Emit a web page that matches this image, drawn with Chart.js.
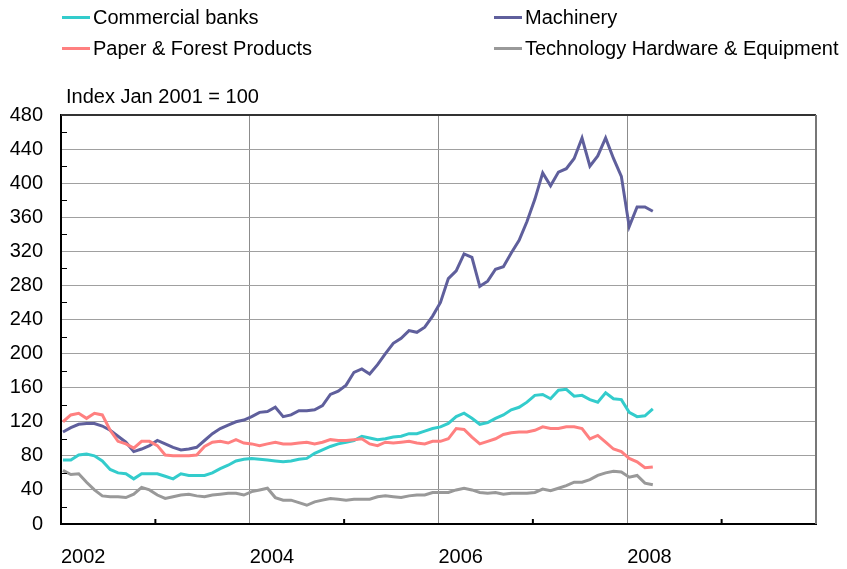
<!DOCTYPE html>
<html>
<head>
<meta charset="utf-8">
<script src="https://cdn.jsdelivr.net/npm/chart.js@4.4.1/dist/chart.umd.min.js"></script>
<style>
  html, body { margin: 0; padding: 0; background: #fff; }
  #wrap { position: relative; width: 847px; height: 569px; font-family: "Liberation Sans", Arial, sans-serif; color: #000; }
  canvas { position: absolute; left: 0; top: 0; }
  .leg { position: absolute; font-size: 20px; line-height: 22px; white-space: nowrap; display: flex; align-items: center; }
  .leg .sw { display: inline-block; width: 28px; height: 3px; margin-right: 3px; }
  #ytitle { position: absolute; left: 66px; top: 85px; font-size: 20px; line-height: 22px; white-space: nowrap; }
</style>
</head>
<body>
<div id="wrap">
  <canvas id="c" width="847" height="569"></canvas>
  <div id="legend"></div>
  <div id="ytitle">Index Jan 2001 = 100</div>
</div>
<script>
// ---- Data (monthly, Jan 2002 .. Apr 2008) ----
const startYear = 2002;
const seriesNames = ["Commercial banks", "Machinery", "Paper & Forest Products", "Technology Hardware & Equipment"];
const seriesColors = ["#33CCCC", "#5F5F9C", "#FF8080", "#999999"];

const commercialBanks = [
  75,75,81,82,80,74,64,60,59,53,59,59,59,56,53,59,57,57,57,60,65,69,74,76,77,
  76,75,74,73,74,76,77,83,87,91,94,96,98,103,101,99,100,102,103,106,106,109,112,114,
  118,126,130,124,117,119,124,128,134,137,143,151,152,147,157,158,150,151,146,143,154,147,146,131,126,127,135
];
const machinery = [
  108,113,117,118,118,115,110,103,96,85,88,92,98,94,90,87,88,90,98,106,112,116,120,122,126,
  131,132,137,126,128,133,
  133,134,139,152,156,163,178,182,176,187,200,212,218,227,225,231,244,260,288,297,317,313,279,285,299,
  302,318,333,355,381,412,397,413,417,429,453,420,432,453,429,408,349,372,372,367
];
const paperForest = [
  120,128,130,124,130,128,110,97,94,89,97,97,92,81,80,80,80,81,91,96,97,95,99,95,94,
  92,94,96,94,94,95,96,94,96,99,98,98,99,100,94,92,96,95,96,97,95,94,97,97,
  100,112,111,102,94,97,100,105,107,108,108,110,114,112,112,114,114,112,100,104,96,88,85,77,73,66,67
];
const techHardware = [
  63,58,59,49,40,33,32,32,31,35,43,40,34,30,32,34,35,33,32,34,35,36,36,34,38,
  40,42,31,28,28,25,22,26,28,30,29,28,29,29,29,32,33,32,31,33,34,34,37,37,
  37,40,42,40,37,36,37,35,36,36,36,37,41,39,42,45,49,49,52,57,60,62,61,55,57,48,46
];
const xTickLabels = ["2002", "2004", "2006", "2008"];
const yMin = 0, yMax = 480, yStep = 40;
const xMin = 2002, xMax = 2010;

const seriesValues = [commercialBanks, machinery, paperForest, techHardware];

function toPoints(arr) {
  return arr.map((v, i) => ({ x: startYear + (i + 0.25) / 12, y: v }));
}

// draw order: gray, red, teal, purple (purple on top)
const order = [3, 2, 0, 1];
const datasets = order.map(k => ({
  label: seriesNames[k],
  data: toPoints(seriesValues[k]),
  borderColor: seriesColors[k],
  backgroundColor: seriesColors[k],
  borderWidth: 3,
  pointRadius: 0,
  tension: 0,
  fill: false
}));

// HTML legend
const legendPos = [
  { k: 0, left: 62, top: 6 },
  { k: 1, left: 494, top: 6 },
  { k: 2, left: 62, top: 37 },
  { k: 3, left: 494, top: 37 }
];
const legEl = document.getElementById('legend');
legendPos.forEach(p => {
  const d = document.createElement('div');
  d.className = 'leg';
  d.style.left = p.left + 'px';
  d.style.top = p.top + 'px';
  const sw = document.createElement('span');
  sw.className = 'sw';
  sw.style.background = seriesColors[p.k];
  const t = document.createElement('span');
  t.textContent = seriesNames[p.k];
  d.appendChild(sw); d.appendChild(t);
  legEl.appendChild(d);
});

const framePlugin = {
  id: 'frame',
  afterDraw(chart) {
    const { ctx, chartArea: a, scales } = chart;
    ctx.save();
    // top and right frame
    ctx.strokeStyle = '#333';
    ctx.lineWidth = 2;
    ctx.beginPath(); ctx.moveTo(a.left, a.top); ctx.lineTo(a.right, a.top); ctx.stroke();
    ctx.strokeStyle = '#777';
    ctx.beginPath(); ctx.moveTo(a.right, a.top); ctx.lineTo(a.right, a.bottom); ctx.stroke();
    // minor y ticks (inside)
    ctx.strokeStyle = '#000';
    ctx.lineWidth = 1;
    for (let v = yMin + yStep / 2; v < yMax; v += yStep) {
      const y = Math.round(scales.y.getPixelForValue(v)) + 0.5;
      ctx.beginPath(); ctx.moveTo(a.left, y); ctx.lineTo(a.left + 6, y); ctx.stroke();
    }
    // x ticks at odd years (inside)
    ctx.lineWidth = 2;
    for (let yr = xMin + 1; yr < xMax; yr += 2) {
      const x = scales.x.getPixelForValue(yr);
      ctx.beginPath(); ctx.moveTo(x, a.bottom); ctx.lineTo(x, a.bottom - 5); ctx.stroke();
    }
    ctx.restore();
  }
};

new Chart(document.getElementById('c'), {
  type: 'line',
  data: { datasets },
  options: {
    responsive: false,
    animation: false,
    parsing: true,
    layout: { padding: { top: 115, right: 31, left: 0, bottom: 0 } },
    plugins: { legend: { display: false }, tooltip: { enabled: false }, title: { display: false } },
    scales: {
      x: {
        type: 'linear',
        min: xMin, max: xMax,
        afterFit(s) { s.height = 45; },
        afterBuildTicks(s) {
          const t = [];
          for (let yr = xMin; yr <= xMax; yr++) t.push({ value: yr });
          s.ticks = t;
        },
        ticks: {
          autoSkip: false, maxRotation: 0, minRotation: 0,
          align: 'start', padding: 21, color: '#000',
          font: { family: '"Liberation Sans", Arial, sans-serif', size: 20 },
          callback: v => xTickLabels.includes(String(v)) ? String(v) : ''
        },
        grid: {
          drawTicks: false,
          lineWidth: 1,
          color: c => (c.tick && c.tick.value % 2 === 0 && c.tick.value > xMin && c.tick.value < xMax) ? '#8c8c8c' : 'rgba(0,0,0,0)'
        },
        border: { color: '#000', width: 2 }
      },
      y: {
        min: yMin, max: yMax,
        afterFit(s) { s.width = 61; },
        ticks: {
          stepSize: yStep, padding: 18, color: '#000',
          font: { family: '"Liberation Sans", Arial, sans-serif', size: 20 }
        },
        grid: { drawTicks: false, color: '#a0a0a0', lineWidth: 1 },
        border: { color: '#000', width: 2 }
      }
    }
  },
  plugins: [framePlugin]
});
</script>
</body>
</html>
